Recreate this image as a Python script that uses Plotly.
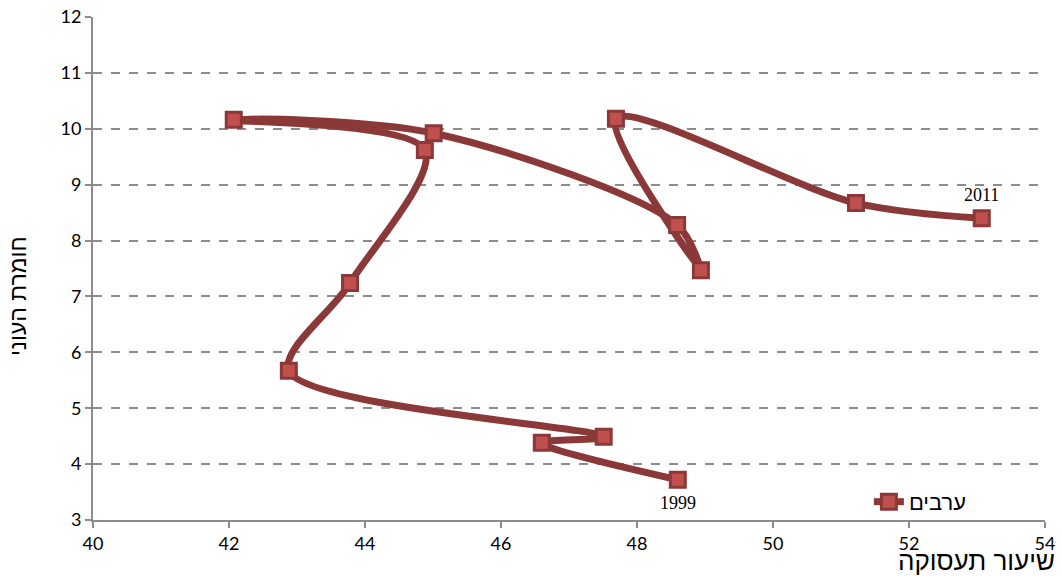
import plotly.graph_objects as go

years = [1999, 2000, 2001, 2002, 2003, 2004, 2005, 2006, 2007, 2008, 2009, 2010, 2011]
employment = [48.60, 46.60, 47.51, 42.88, 43.78, 44.88, 42.07, 45.01, 48.59, 48.94, 47.69, 51.22, 53.07]
poverty = [3.72, 4.38, 4.49, 5.67, 7.24, 9.62, 10.16, 9.92, 8.28, 7.47, 10.18, 8.67, 8.40]
series_name = "ערבים"
x_title = "שיעור תעסוקה"
y_title = "חומרת העוני"

line_color = "#8B3838"
marker_fill = "#C0504D"
grid_color = "#8C8C8C"

fig = go.Figure()
fig.add_trace(go.Scatter(
    x=employment, y=poverty, mode="lines+markers", name=series_name,
    line=dict(color=line_color, width=7, shape="spline", smoothing=0.9),
    marker=dict(symbol="square", size=15, color=marker_fill,
                line=dict(color=line_color, width=3)),
    showlegend=True,
))

fig.add_annotation(x=employment[-1], y=poverty[-1], text=str(years[-1]),
                   showarrow=False, yshift=23,
                   font=dict(family="Liberation Serif", size=18, color="black"))
fig.add_annotation(x=employment[0], y=poverty[0], text=str(years[0]),
                   showarrow=False, yshift=-23,
                   font=dict(family="Liberation Serif", size=18, color="black"))

tick_font = dict(family="Lato, DejaVu Sans", size=18, color="black")
fig.update_layout(
    width=1062, height=577,
    margin=dict(l=93, r=17, t=17, b=57, autoexpand=False),
    paper_bgcolor="white", plot_bgcolor="white",
    xaxis=dict(range=[40, 54], dtick=2, tick0=40, showgrid=False, zeroline=False,
               showline=True, linecolor=grid_color, linewidth=2, automargin=False,
               ticks="outside", ticklen=6, tickcolor=grid_color, tickwidth=2,
               tickfont=tick_font),
    yaxis=dict(range=[3, 12], dtick=1, tick0=3, showgrid=True, gridcolor=grid_color,
               griddash="dash", gridwidth=1.5, zeroline=False, automargin=False,
               showline=True, linecolor=grid_color, linewidth=2,
               ticks="outside", ticklen=6, tickcolor=grid_color, tickwidth=2,
               tickfont=tick_font),
    legend=dict(x=0.815, y=0.036, xanchor="left", yanchor="middle",
                bgcolor="rgba(0,0,0,0)",
                font=dict(family="Liberation Sans, DejaVu Sans", size=22, color="black")),
    showlegend=True,
)

fig.add_annotation(xref="paper", yref="paper", x=1.0126, y=-0.082, xanchor="right",
                   yanchor="middle", text=x_title, showarrow=False,
                   font=dict(family="Liberation Sans, DejaVu Sans", size=26, color="black"))
fig.add_annotation(xref="paper", yref="paper", x=-0.079, y=0.445, xanchor="center",
                   yanchor="middle", text=y_title, showarrow=False, textangle=-90,
                   font=dict(family="Liberation Sans, DejaVu Sans", size=23, color="black"))

fig.write_html(
    "out.html",
    config={"displayModeBar": False},
    post_script="document.body.style.margin='0';document.body.style.padding='0';"
                "document.documentElement.style.overflow='hidden';",
)
